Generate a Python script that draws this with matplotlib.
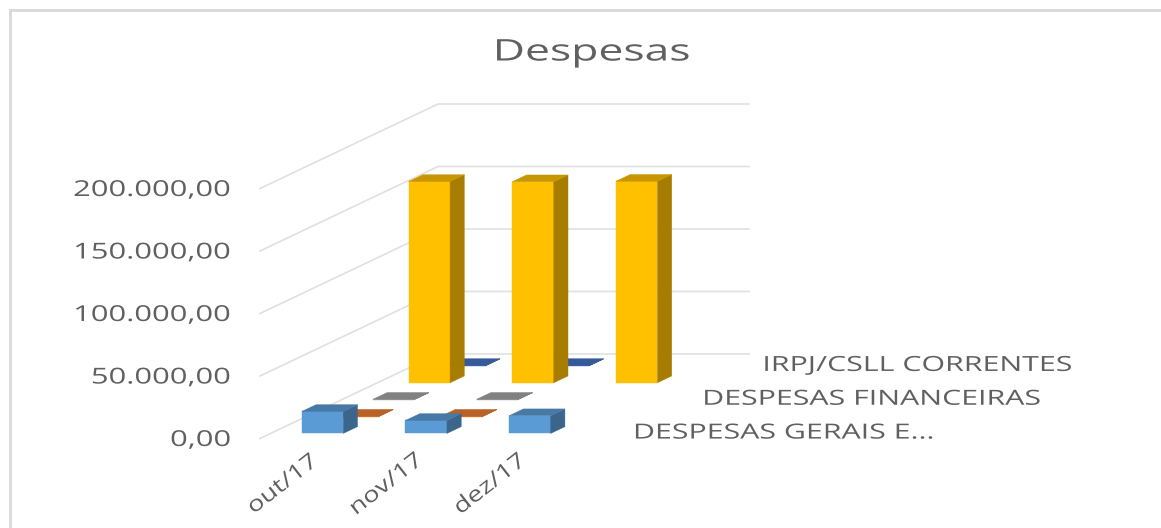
import numpy as np
import matplotlib.pyplot as plt
from matplotlib.patches import Polygon
from matplotlib.patheffects import AbstractPathEffect
from matplotlib.transforms import Affine2D

plt.rcParams['font.family'] = ['Open Sans', 'DejaVu Sans']

# data
title = "Despesas"
categories = ["out/17", "nov/17", "dez/17"]
series_names = ["DESPESAS GERAIS E...", "", "DESPESAS FINANCEIRAS", "", "IRPJ/CSLL CORRENTES"]
despesas_gerais = [17600, 10400, 14200]
serie_laranja = [300, 300, np.nan]
despesas_financeiras = [300, 300, np.nan]
serie_amarela = [161000, 160800, 161200]
irpj_csll = [300, 300, np.nan]
all_series = [despesas_gerais, serie_laranja, despesas_financeiras, serie_amarela, irpj_csll]
colors = ["#5B9BD5", "#ED7D31", "#A5A5A5", "#FFC000", "#4472C4"]
ticks = [0, 50000, 100000, 150000, 200000]
tick_labels = ["0,00", "50.000,00", "100.000,00", "150.000,00", "200.000,00"]

# oblique projection, all in picture pixels
X0, Y0 = 260, 438.5
CAT_W = 103.7
DX, DY = 35.6, -16.9
PX_PER_UNIT = 250 / 200000
GRAY = "#606060"


def project(cat, depth, value):
    return (X0 + cat * CAT_W + depth * DX, Y0 + depth * DY - value * PX_PER_UNIT)


def shade(color, f):
    r, g, b = plt.matplotlib.colors.to_rgb(color)
    return (r * f, g * f, b * f)


class StretchX(AbstractPathEffect):
    # the reference text is stretched sideways, widen the glyphs around an anchor
    def __init__(self, sx, anchor=0.5):
        super().__init__()
        self.sx = sx
        self.anchor = anchor

    def draw_path(self, renderer, gc, tpath, affine, rgbFace=None):
        ext = tpath.get_extents()
        pivot = ext.x0 + self.anchor * (ext.x1 - ext.x0)
        stretch = Affine2D().translate(-pivot, 0).scale(self.sx, 1).translate(pivot, 0)
        renderer.draw_path(gc, tpath, stretch + affine, rgbFace)


def draw_bar(ax, cat, ser, value, color):
    c0, c1 = cat + 0.3, cat + 0.7
    s0, s1 = ser + 0.3, ser + 0.7
    faces = [
        ([project(c0, s0, 0), project(c1, s0, 0), project(c1, s0, value), project(c0, s0, value)], color),
        ([project(c1, s0, 0), project(c1, s1, 0), project(c1, s1, value), project(c1, s0, value)], shade(color, 0.65)),
        ([project(c0, s0, value), project(c1, s0, value), project(c1, s1, value), project(c0, s1, value)], shade(color, 0.78)),
    ]
    for pts, fc in faces:
        ax.add_patch(Polygon(pts, closed=True, facecolor=fc, edgecolor=fc, linewidth=0.3, zorder=3))


fig = plt.figure(figsize=(11.61, 5.28), dpi=100)
ax = fig.add_axes([0, 0, 1, 1])
ax.set_xlim(0, 1161)
ax.set_ylim(528, 0)
ax.axis('off')

# chart border, only top and left are in frame
ax.plot([10, 10, 1161], [528, 10, 10], color="#D9D9D9", lw=2.0, solid_joinstyle='miter')

ax.text(592, 53, title, fontsize=21.5, color=GRAY, ha='center', va='center',
        path_effects=[StretchX(1.49, 0.5)])

# walls
n_cat = len(categories)
n_ser = len(all_series)
for t, lab in zip(ticks, tick_labels):
    front = project(0, 0, t)
    corner = project(0, n_ser, t)
    end = project(n_cat, n_ser, t)
    ax.plot([front[0], corner[0], end[0]], [front[1], corner[1], end[1]], color="#E0E0E0", lw=1.2, zorder=1)
    ax.text(231, front[1] + 2, lab, fontsize=15.8, color=GRAY, ha='right', va='center',
            path_effects=[StretchX(1.41, 1.0)])

# bars, back to front
for s in range(n_ser - 1, -1, -1):
    for c in range(n_cat):
        v = all_series[s][c]
        if not np.isnan(v):
            draw_bar(ax, c, s, v, colors[s])

# category labels
for c, lab in enumerate(categories):
    x, y = project(c + 0.5, 0, 0)
    ax.text(x - 29, y + 46, lab, fontsize=15.5, color=GRAY, ha='center', va='center',
            rotation=38, rotation_mode='anchor', path_effects=[StretchX(1.25, 0.5)])

# series labels
label_dx = [45, 0, 43, 0, 32]
for s, name in enumerate(series_names):
    if name:
        x, y = project(n_cat, s + 0.5, 0)
        ax.text(x + label_dx[s], y + 3, name, fontsize=15, color=GRAY, ha='left', va='center',
                path_effects=[StretchX(1.456, 0.0)])

plt.savefig("out.png", dpi=100)
plt.close()
